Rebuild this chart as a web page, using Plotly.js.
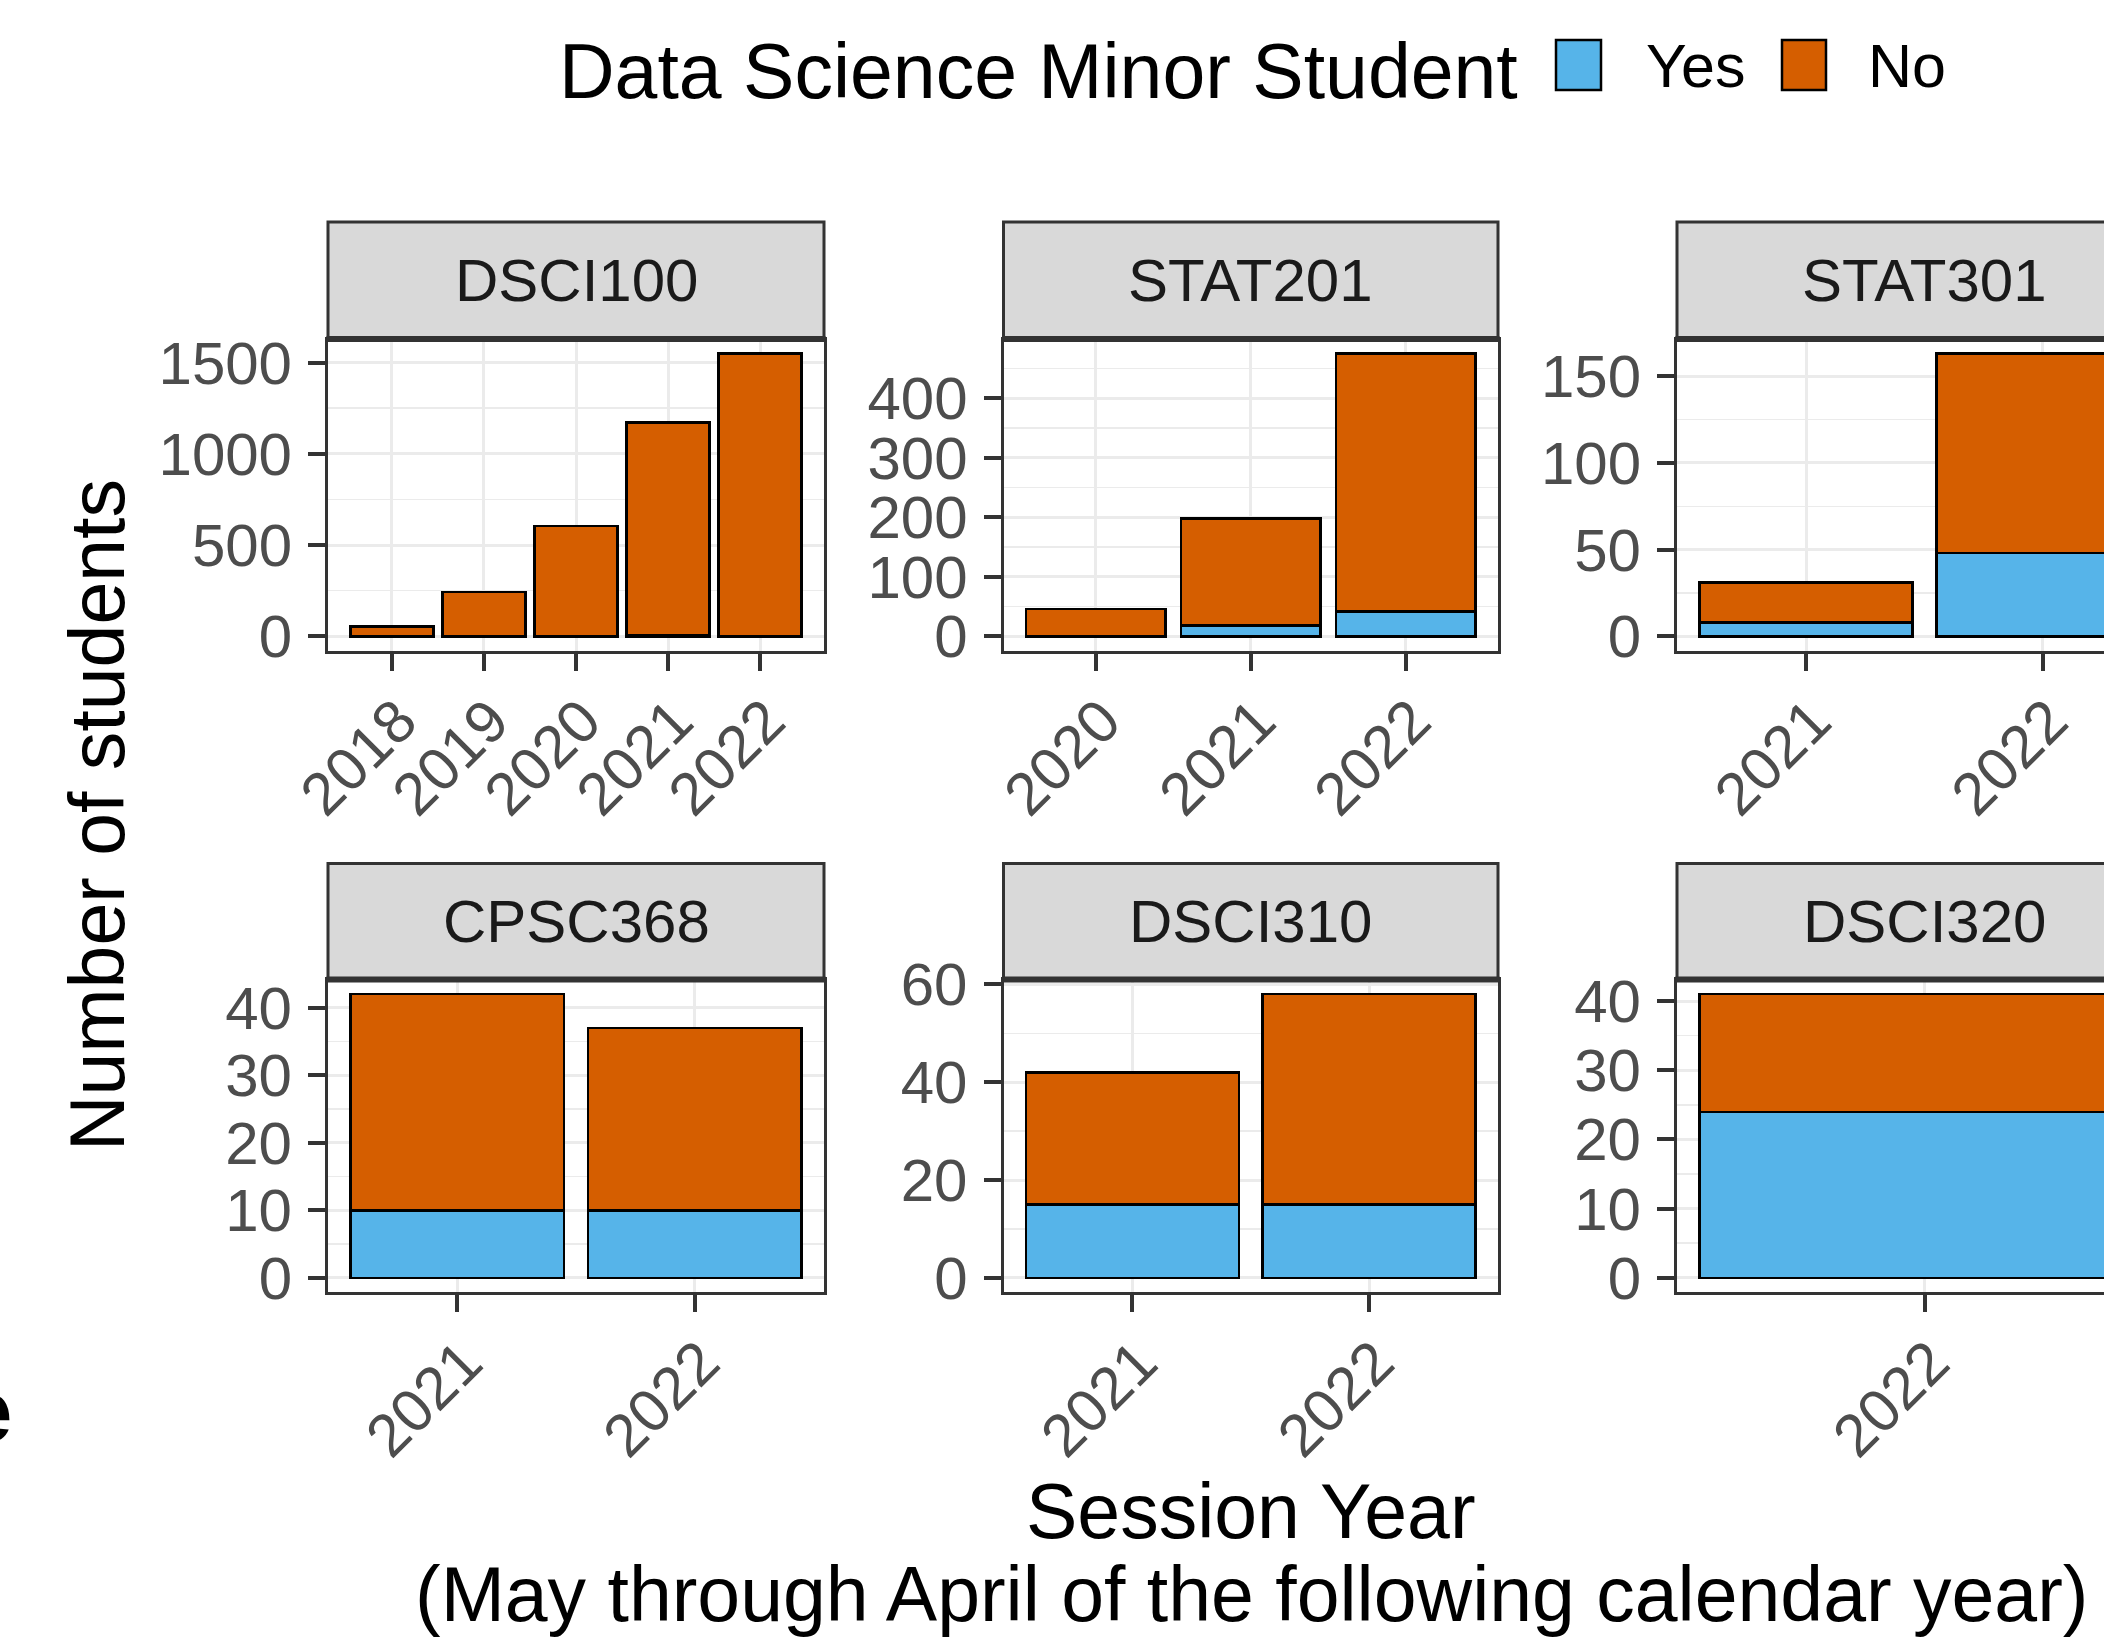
<!DOCTYPE html>
<html>
<head>
<meta charset="utf-8">
<script src="https://cdn.plot.ly/plotly-3.0.1.min.js"></script>
<style>
  html, body { margin: 0; padding: 0; overflow: hidden; background: #ffffff; }
  #chart { width: 2200px; height: 1639px; }
</style>
</head>
<body>
<div id="chart"></div>
<script>
// ---------------- data ----------------
const courses = ['DSCI100', 'STAT201', 'STAT301', 'CPSC368', 'DSCI310', 'DSCI320'];
const seriesNames = ['Yes', 'No'];

const dsci100Years = [2018, 2019, 2020, 2021, 2022];
const dsci100Yes   = [null, null, null, 6, null];
const dsci100No    = [55, 242, 605, 1166, 1549];

const stat201Years = [2020, 2021, 2022];
const stat201Yes   = [null, 18, 42];
const stat201No    = [46, 180, 433];

const stat301Years = [2021, 2022];
const stat301Yes   = [8, 48];
const stat301No    = [23, 115];

const cpsc368Years = [2021, 2022];
const cpsc368Yes   = [10, 10];
const cpsc368No    = [32, 27];

const dsci310Years = [2021, 2022];
const dsci310Yes   = [15, 15];
const dsci310No    = [27, 43];

const dsci320Years = [2022];
const dsci320Yes   = [24];
const dsci320No    = [17];

const yTickSteps = [500, 100, 50, 10, 20, 10];

const legendTitle = 'Data Science Minor Student';
const yTitle = 'Number of students';
const xTitle1 = 'Session Year';
const xTitle2 = '(May through April of the following calendar year)';

// ---------------- layout geometry (pixels) ----------------
const W = 2200, H = 1639;
const colX = [[328, 824], [1003.5, 1498], [1677, 2172]];
const rowY = [[339.5, 650.5], [980, 1292]];
const stripY = [[222, 338], [863.5, 978.5]];
const px = v => v / W;
const py = v => 1 - v / H;

const COLORS = { Yes: '#56B4E9', No: '#D55E00' };
const FONT = 'Liberation Sans, Arial, Helvetica, sans-serif';
const TICKFONT = { family: FONT, size: 60, color: '#4D4D4D' };

const panelData = [
  { years: dsci100Years, yes: dsci100Yes, no: dsci100No },
  { years: stat201Years, yes: stat201Yes, no: stat201No },
  { years: stat301Years, yes: stat301Yes, no: stat301No },
  { years: cpsc368Years, yes: cpsc368Yes, no: cpsc368No },
  { years: dsci310Years, yes: dsci310Yes, no: dsci310No },
  { years: dsci320Years, yes: dsci320Yes, no: dsci320No }
];

const traces = [];
const layout = {
  width: W, height: H,
  margin: { l: 0, r: 0, t: 0, b: 0, pad: 0 },
  paper_bgcolor: '#ffffff',
  plot_bgcolor: '#ffffff',
  barmode: 'stack',
  showlegend: false,
  font: { family: FONT, color: '#000000' },
  shapes: [],
  annotations: []
};

panelData.forEach((p, i) => {
  const row = Math.floor(i / 3), col = i % 3;
  const suf = i === 0 ? '' : String(i + 1);
  const xa = 'x' + suf, ya = 'y' + suf;

  [['Yes', p.yes], ['No', p.no]].forEach(([nm, vals]) => {
    traces.push({
      type: 'bar', name: nm, x: p.years, y: vals,
      xaxis: xa, yaxis: ya, width: 0.9,
      marker: { color: COLORS[nm], line: { color: '#000000', width: 2.5 } },
      hoverinfo: 'x+y+name'
    });
  });

  const totals = p.years.map((_, k) => (p.yes[k] || 0) + (p.no[k] || 0));
  const ymax = Math.max(...totals);
  const lo = Math.min(...p.years) - 0.45, hi = Math.max(...p.years) + 0.45;
  const padX = 0.05 * (hi - lo);

  const common = {
    showline: true, mirror: true, linecolor: '#333333', linewidth: 3,
    ticks: 'outside', ticklen: 17, tickwidth: 4, tickcolor: '#333333',
    showgrid: true, gridcolor: '#EBEBEB', gridwidth: 3,
    zeroline: false, tickfont: TICKFONT, fixedrange: true
  };

  layout['xaxis' + suf] = Object.assign({}, common, {
    domain: [px(colX[col][0]), px(colX[col][1])],
    anchor: ya,
    range: [lo - padX, hi + padX],
    tickmode: 'array', tickvals: p.years, ticktext: p.years.map(String),
    tickangle: -45,
    ticklabelstandoff: -9,
    ticklabelshift: 7
  });
  layout['yaxis' + suf] = Object.assign({}, common, {
    domain: [py(rowY[row][1]), py(rowY[row][0])],
    anchor: xa,
    range: [-0.05 * ymax, 1.05 * ymax],
    tick0: 0, dtick: yTickSteps[i],
    ticklabelstandoff: 4,
    minor: { dtick: yTickSteps[i] / 2, showgrid: true, gridcolor: '#EBEBEB', gridwidth: 1.5, ticks: '' }
  });

  // facet strip
  layout.shapes.push({
    type: 'rect', xref: 'paper', yref: 'paper', layer: 'above',
    x0: px(colX[col][0]), x1: px(colX[col][1]),
    y0: py(stripY[row][1]), y1: py(stripY[row][0]),
    fillcolor: '#D9D9D9', line: { color: '#333333', width: 3 }
  });
  layout.shapes.push({
    type: 'line', xref: 'paper', yref: 'paper', layer: 'above',
    x0: px(colX[col][0] - 1.5), x1: px(colX[col][1] + 1.5),
    y0: py(stripY[row][1] + 1), y1: py(stripY[row][1] + 1),
    line: { color: '#333333', width: 6 }
  });
  layout.annotations.push({
    xref: 'paper', yref: 'paper', showarrow: false,
    x: px((colX[col][0] + colX[col][1]) / 2),
    y: py((stripY[row][0] + stripY[row][1]) / 2),
    xanchor: 'center', yanchor: 'middle',
    text: courses[i], font: { family: FONT, size: 60, color: '#1A1A1A' }
  });
});

// ---------------- legend (drawn at the top, ggplot style) ----------------
layout.annotations.push({
  xref: 'paper', yref: 'paper', showarrow: false,
  x: px(557), y: py(71), xanchor: 'left', yanchor: 'middle',
  text: legendTitle, font: { family: FONT, size: 77, color: '#000000' }
});
const legendKeys = [[1556, 1601, 1644], [1782, 1826, 1866]];
seriesNames.forEach((nm, k) => {
  layout.shapes.push({
    type: 'rect', xref: 'paper', yref: 'paper',
    x0: px(legendKeys[k][0]), x1: px(legendKeys[k][1]),
    y0: py(90), y1: py(40),
    fillcolor: COLORS[nm], line: { color: '#000000', width: 2.5 }
  });
  layout.annotations.push({
    xref: 'paper', yref: 'paper', showarrow: false,
    x: px(legendKeys[k][2]), y: py(66), xanchor: 'left', yanchor: 'middle',
    text: nm, font: { family: FONT, size: 61, color: '#000000' }
  });
});

// ---------------- axis titles ----------------
layout.annotations.push({
  xref: 'paper', yref: 'paper', showarrow: false,
  x: px(97), y: py(815), xanchor: 'center', yanchor: 'middle', textangle: -90,
  text: yTitle, font: { family: FONT, size: 77, color: '#000000' }
});
layout.annotations.push({
  xref: 'paper', yref: 'paper', showarrow: false,
  x: px(1251), y: py(1511), xanchor: 'center', yanchor: 'middle',
  text: xTitle1, font: { family: FONT, size: 77, color: '#000000' }
});
layout.annotations.push({
  xref: 'paper', yref: 'paper', showarrow: false,
  x: px(1251), y: py(1594), xanchor: 'center', yanchor: 'middle',
  text: xTitle2, font: { family: FONT, size: 77, color: '#000000' }
});
// clipped letter at the left edge of the reference
layout.annotations.push({
  xref: 'paper', yref: 'paper', showarrow: false,
  x: px(14), y: py(1410), xanchor: 'right', yanchor: 'middle',
  text: '<b>e</b>', font: { family: FONT, size: 87, color: '#000000' }
});

Plotly.newPlot('chart', traces, layout, { displayModeBar: false, staticPlot: true });
</script>
</body>
</html>
